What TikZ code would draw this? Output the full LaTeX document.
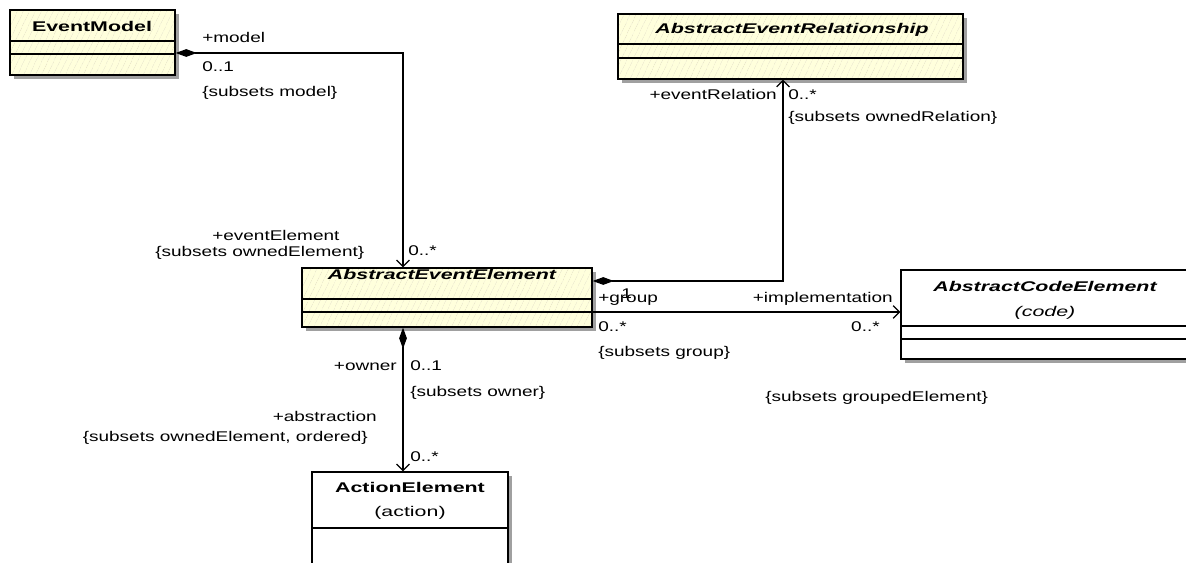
\documentclass[tikz,border=0pt]{standalone}
\usepackage{fontspec}
\setmainfont{Liberation Sans}[FakeStretch=1.35]
\newfontfamily\titlefont{Liberation Sans}[FakeStretch=1.52]
\usetikzlibrary{arrows.meta,shadows,patterns.meta}
\newlength\px
\setlength\px{0.025cm}
\definecolor{umlfill}{RGB}{255,255,220}
\definecolor{umlhatch}{RGB}{226,222,188}
\definecolor{umlshadow}{RGB}{160,160,160}
\tikzset{
  umlclass/.style={draw, line width=1pt, inner sep=0pt,
    drop shadow={shadow xshift=4\px, shadow yshift=-4\px, fill=umlshadow, opacity=1}},
  plain/.style={fill=white},
  hatched/.style={preaction={fill=umlfill}, preaction={pattern={Lines[angle=65,distance=4pt,line width=0.4pt]}, pattern color=umlhatch}},
  sep/.style={line width=1pt},
  title/.style={anchor=base, inner sep=0pt, font=\titlefont\fontsize{10}{12}\selectfont},
  lbl/.style={inner sep=0pt, font=\fontsize{10}{12}\selectfont},
  comp/.style={line width=0.9pt, {Diamond[length=15pt,width=5.5pt]}-{Straight Barb[length=4.5pt,width=9pt]}},
  assoc/.style={line width=0.9pt, -{Straight Barb[length=4.5pt,width=9pt]}}
}
\begin{document}
\begin{tikzpicture}[x=0.025cm, y=-0.025cm]
	\clip (0,0) rectangle (1186,563);

	% EventModel
	\node[umlclass, hatched, minimum width=165\px, minimum height=65\px] (em) at (92.5,42.5) {};
	\node[title] (emt) at (92,32) {\bfseries EventModel};
	\draw[sep] (em.west |- 0,41) -- (em.east |- 0,41);
	\draw[sep] (em.west |- 0,54) -- (em.east |- 0,54);

	% AbstractEventRelationship
	\node[umlclass, hatched, minimum width=345\px, minimum height=65\px] (aer) at (790.5,46.5) {};
	\node[title] (aert) at (792,34) {\bfseries\itshape AbstractEventRelationship};
	\draw[sep] (aer.west |- 0,44) -- (aer.east |- 0,44);
	\draw[sep] (aer.west |- 0,58) -- (aer.east |- 0,58);

	% AbstractEventElement
	\node[umlclass, hatched, minimum width=290\px, minimum height=59\px] (aee) at (447,297.5) {};
	\node[title] (aeet) at (442,280) {\bfseries\itshape AbstractEventElement};
	\draw[sep] (aee.west |- 0,299) -- (aee.east |- 0,299);
	\draw[sep] (aee.west |- 0,312) -- (aee.east |- 0,312);

	% AbstractCodeElement
	\node[umlclass, plain, minimum width=288\px, minimum height=89\px] (ace) at (1045,314.5) {};
	\node[title] (acet) at (1045,292) {\bfseries\itshape AbstractCodeElement};
	\node[title] (acec) at (1045,317) {\itshape (code)};
	\draw[sep] (ace.west |- 0,326) -- (ace.east |- 0,326);
	\draw[sep] (ace.west |- 0,339) -- (ace.east |- 0,339);

	% ActionElement
	\node[umlclass, plain, minimum width=196\px, minimum height=103\px] (ae) at (410,523.5) {};
	\node[title] (aet) at (410,493) {\bfseries ActionElement};
	\node[title] (aea) at (410,517) {(action)};
	\draw[sep] (ae.west |- 0,528) -- (ae.east |- 0,528);

	% Associations
	\coordinate (g1) at ([yshift=-14.5\px]aee.east);
	\coordinate (o1) at ([xshift=-44\px]aee.south);
	\draw[comp] ([yshift=-10.5\px]em.east) -| ([xshift=-44\px]aee.north);
	\draw[comp] ([yshift=16.5\px]aee.east) -| ([xshift=-7.5\px]aer.south);
	\draw[assoc] (g1) -- (g1 -| ace.west);
	\draw[comp] (o1) -- (o1 |- ae.north);

	% Role names and multiplicities
	\node[lbl, anchor=base west] (lmodel) at (202,43) {+model};
	\node[lbl, anchor=base west] (mmodel) at (202,72) {0..1};
	\node[lbl, anchor=base west] (smodel) at (202,97) {\{subsets model\}};
	\node[lbl, anchor=base west] (levent) at (212,241) {+eventElement};
	\node[lbl, anchor=base west] (sevent) at (155,257) {\{subsets ownedElement\}};
	\node[lbl, anchor=base west] (mevent) at (408,256) {0..*};
	\node[lbl, anchor=base east] (lrel) at (777,100) {+eventRelation};
	\node[lbl, anchor=base west] (mrel) at (788,100) {0..*};
	\node[lbl, anchor=base west] (srel) at (788,122) {\{subsets ownedRelation\}};
	\node[lbl, anchor=base west] (lgroup) at (598,303) {+group};
	\node[lbl, anchor=base west] (mone) at (621,299) {1};
	\node[lbl, anchor=base west] (mgroup) at (598,332) {0..*};
	\node[lbl, anchor=base west] (sgroup) at (598,357) {\{subsets group\}};
	\node[lbl, anchor=base east] (limpl) at (893,303) {+implementation};
	\node[lbl, anchor=base east] (mimpl) at (880,332) {0..*};
	\node[lbl, anchor=base west] (simpl) at (765,402) {\{subsets groupedElement\}};
	\node[lbl, anchor=base east] (lowner) at (397,371) {+owner};
	\node[lbl, anchor=base west] (mowner) at (410,371) {0..1};
	\node[lbl, anchor=base west] (sowner) at (410,397) {\{subsets owner\}};
	\node[lbl, anchor=base east] (labs) at (377,422) {+abstraction};
	\node[lbl, anchor=base east] (sabs) at (368,442) {\{subsets ownedElement, ordered\}};
	\node[lbl, anchor=base west] (mabs) at (410,462) {0..*};
\end{tikzpicture}
\end{document}
